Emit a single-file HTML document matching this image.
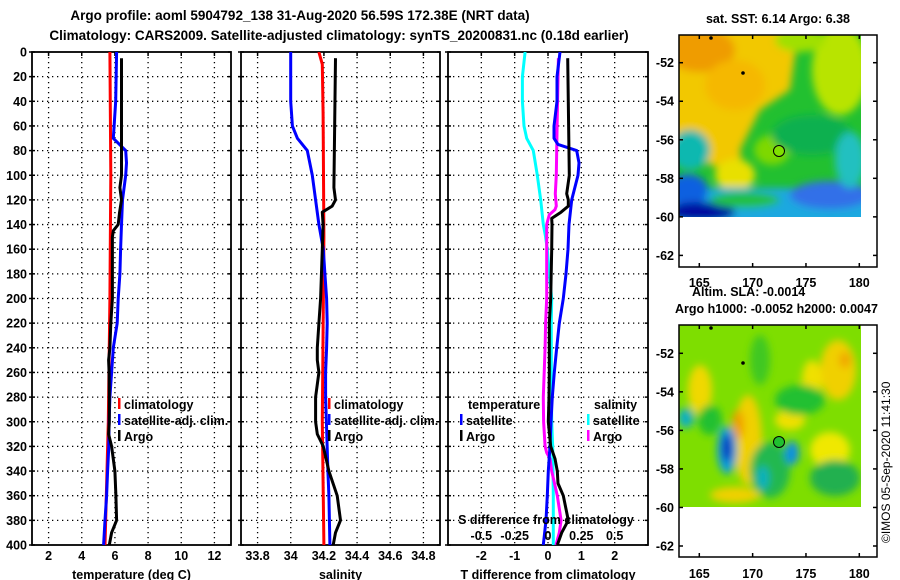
<!DOCTYPE html>
<html><head><meta charset="utf-8">
<style>
html,body{margin:0;padding:0;background:#fff;}
svg{display:block;font-family:"Liberation Sans",sans-serif;}
.t{font-weight:bold;font-size:12.5px;fill:#000;}
.h{font-weight:bold;font-size:13.5px;fill:#000;}
</style></head>
<body>
<svg id="fig" width="900" height="580" viewBox="0 0 900 580" xmlns="http://www.w3.org/2000/svg">
<defs>
<filter id="blur" x="-20%" y="-20%" width="140%" height="140%"><feGaussianBlur stdDeviation="4"/></filter>
<clipPath id="c1"><rect x="679" y="35" width="182" height="182"/></clipPath>
<clipPath id="c2"><rect x="679" y="325" width="182" height="182"/></clipPath>
<clipPath id="p1"><rect x="32" y="52" width="199" height="493"/></clipPath>
<clipPath id="p2"><rect x="241" y="52" width="199" height="493"/></clipPath>
<clipPath id="p3"><rect x="448" y="52" width="200" height="493"/></clipPath>
</defs>
<text class="h" x="300" y="20" text-anchor="middle">Argo profile: aoml 5904792_138 31-Aug-2020 56.59S 172.38E (NRT data)</text>
<text class="h" x="339" y="40" text-anchor="middle">Climatology: CARS2009. Satellite-adjusted climatology: synTS_20200831.nc (0.18d earlier)</text>

<!-- map 1 -->
<g>
<text class="t" x="778" y="23" text-anchor="middle">sat. SST: 6.14 Argo: 6.38</text>
<g clip-path="url(#c1)">
<rect x="679" y="35" width="182" height="182" fill="#22c030"/>
<g filter="url(#blur)">
<polygon points="660,20 800,20 790,90 760,110 740,150 745,180 700,160 660,150" fill="#f2c800"/>
<ellipse cx="700" cy="50" rx="35" ry="22" fill="#ef9c00"/>
<ellipse cx="735" cy="85" rx="30" ry="25" fill="#f5b800"/>
<ellipse cx="840" cy="70" rx="28" ry="45" fill="#b8e400"/>
<ellipse cx="800" cy="40" rx="25" ry="12" fill="#a0e000"/>
<ellipse cx="735" cy="175" rx="20" ry="16" fill="#e8e000"/>
<ellipse cx="772" cy="150" rx="18" ry="15" fill="#7ed800"/>
<ellipse cx="812" cy="135" rx="40" ry="20" fill="#10b050"/>
<rect x="660" y="188" width="220" height="40" fill="#1aa8e0"/>
<ellipse cx="830" cy="195" rx="40" ry="14" fill="#3070e8"/>
<ellipse cx="850" cy="160" rx="15" ry="28" fill="#20c0c0"/>
<ellipse cx="690" cy="150" rx="20" ry="20" fill="#10b8b0"/>
<ellipse cx="688" cy="190" rx="20" ry="16" fill="#1060e0"/>
<ellipse cx="700" cy="212" rx="35" ry="10" fill="#0010a0"/>
<ellipse cx="745" cy="200" rx="35" ry="8" fill="#20c040"/>
</g>
</g>
<rect x="679" y="35" width="198" height="232" fill="none" stroke="#000" stroke-width="1.5"/>
<circle cx="779" cy="151" r="5.5" fill="#80e000" stroke="#000" stroke-width="1"/>
<circle cx="711" cy="38" r="1.8" fill="#000"/><circle cx="743" cy="73" r="1.8" fill="#000"/>
</g>
<g>
<text class="t" x="692" y="296">Altim. SLA: -0.0014</text>
<text class="t" x="675" y="313">Argo h1000: -0.0052 h2000: 0.0047</text>
<g clip-path="url(#c2)">
<rect x="679" y="325" width="182" height="182" fill="#7ede00"/>
<g filter="url(#blur)">
<ellipse cx="700" cy="390" rx="12" ry="25" fill="#f0d800"/>
<ellipse cx="748" cy="440" rx="14" ry="45" fill="#f0d000"/>
<ellipse cx="738" cy="425" rx="6" ry="15" fill="#f0a000"/>
<ellipse cx="838" cy="370" rx="18" ry="30" fill="#f0d000"/>
<ellipse cx="845" cy="360" rx="6" ry="8" fill="#f0a800"/>
<ellipse cx="812" cy="380" rx="10" ry="20" fill="#f0e000"/>
<ellipse cx="830" cy="450" rx="20" ry="18" fill="#f0e800"/>
<ellipse cx="790" cy="420" rx="15" ry="10" fill="#f0e000"/>
<ellipse cx="800" cy="400" rx="25" ry="15" fill="#20c030"/>
<ellipse cx="710" cy="420" rx="12" ry="15" fill="#20c030"/>
<ellipse cx="770" cy="470" rx="20" ry="28" fill="#20b850"/>
<ellipse cx="835" cy="478" rx="25" ry="18" fill="#20b050"/>
<ellipse cx="760" cy="360" rx="10" ry="25" fill="#40c820"/>
<ellipse cx="686" cy="418" rx="8" ry="10" fill="#10b0c0"/>
<ellipse cx="727" cy="450" rx="10" ry="24" fill="#10a0d8"/>
<ellipse cx="727" cy="448" rx="5" ry="14" fill="#1030c0"/>
<ellipse cx="792" cy="453" rx="7" ry="12" fill="#1090e0"/>
<ellipse cx="763" cy="478" rx="6" ry="12" fill="#10b0c0"/>
<ellipse cx="735" cy="495" rx="25" ry="8" fill="#f0d000"/>
</g>
</g>
<rect x="679" y="325" width="198" height="232" fill="none" stroke="#000" stroke-width="1.5"/>
<circle cx="779" cy="442" r="5.5" fill="#20c030" stroke="#000" stroke-width="1"/>
<circle cx="711" cy="328" r="1.8" fill="#000"/><circle cx="743" cy="363" r="1.8" fill="#000"/>
<text x="890" y="543" font-size="12" transform="rotate(-90 890 543)">©IMOS 05-Sep-2020 11:41:30</text>
</g>
<g id="mapaxes"></g>
<g id="panels"></g>
</svg>
<script>
// ---- data ----
var depthTicks=[0,20,40,60,80,100,120,140,160,180,200,220,240,260,280,300,320,340,360,380,400];
var tempTicks=[2,4,6,8,10,12];
var salTicks=[33.8,34,34.2,34.4,34.6,34.8];
var salTickLabels=["33.8","34","34.2","34.4","34.6","34.8"];
var diffTicks=[-2,-1,0,1,2];
var sdiffTicks=[-0.5,-0.25,0,0.25,0.5];
var sdiffTickLabels=["-0.5","-0.25","0","0.25","0.5"];

var tClimDepth=[0,100,200,300,400];
var tClim=[5.7,5.75,5.7,5.6,5.4];
var tSatDepth=[0,40,60,70,80,90,100,120,140,160,180,200,220,240,260,280,300,320,340,360,380,400];
var tSat=[6.1,6.05,5.95,5.9,6.65,6.7,6.65,6.46,6.4,6.34,6.3,6.2,6.14,5.9,5.8,5.7,5.65,5.63,5.56,5.5,5.4,5.32];
var tArgoDepth=[5,100,110,120,130,140,145,150,160,200,220,240,250,260,280,300,310,320,340,360,380,390,400];
var tArgo=[6.4,6.4,6.3,6.4,6.28,6.2,5.9,5.85,5.85,5.85,5.75,5.7,5.62,5.65,5.66,5.66,5.62,5.8,6.0,6.06,6.1,5.8,5.66];

var sClimDepth=[0,10,50,150,300,400];
var sClim=[34.17,34.19,34.195,34.2,34.19,34.2];
var sSatDepth=[0,40,60,70,80,100,120,140,160,180,200,220,240,260,280,300,340,360,400];
var sSat=[34.0,34.0,34.01,34.04,34.1,34.13,34.15,34.17,34.196,34.206,34.216,34.22,34.216,34.21,34.21,34.215,34.224,34.23,34.236];
var sArgoDepth=[5,110,120,125,130,140,160,200,220,240,250,260,280,300,310,320,340,360,380,390,400];
var sArgo=[34.27,34.26,34.27,34.25,34.19,34.195,34.19,34.18,34.17,34.16,34.16,34.17,34.15,34.15,34.16,34.196,34.23,34.28,34.3,34.27,34.256];

var dTSatDepth=[0,20,40,60,70,75,80,90,100,120,140,160,180,200,220,240,260,280,300,320,340,360,380,400];
var dTSat=[0.36,0.27,0.27,0.18,0.18,0.3,0.86,0.93,0.9,0.71,0.63,0.6,0.54,0.46,0.34,0.26,0.19,0.13,0.09,0.06,0.01,-0.02,-0.06,-0.14];
var dTArgoDepth=[5,100,115,120,125,130,135,140,160,200,220,260,280,300,320,330,340,350,360,380,390,400];
var dTArgo=[0.59,0.64,0.56,0.61,0.61,0.39,0.11,0.12,0.11,0.08,0.04,0.04,0.03,0.01,0.08,0.21,0.28,0.3,0.46,0.61,0.41,0.28];
var dSSatDepth=[0,20,40,60,70,80,100,120,140,150,160,180,200,220,260,300,320,360,400];
var dSSat=[-0.172,-0.192,-0.192,-0.18,-0.16,-0.11,-0.08,-0.055,-0.035,-0.018,-0.005,0.01,0.028,0.025,0.025,0.028,0.035,0.04,0.04];
var dSArgoDepth=[5,60,100,115,125,128,132,140,200,220,240,280,300,320,325,330,340,360,380,390,400];
var dSArgo=[0.078,0.068,0.062,0.055,0.062,0.052,0.01,-0.01,-0.01,-0.018,-0.022,-0.035,-0.033,-0.022,-0.01,0.015,0.028,0.07,0.098,0.085,0.06];

var mapLonTicks=[165,170,175,180];
var mapLatTicks=[-52,-54,-56,-58,-60,-62];

// ---- drawing ----
var NS="http://www.w3.org/2000/svg";
var root=document.getElementById('panels');
function el(tag,attrs,parent){var e=document.createElementNS(NS,tag);for(var k in attrs)e.setAttribute(k,attrs[k]);(parent||root).appendChild(e);return e;}
var Y0=52,Y1=545;
function yS(d){return Y0+(d/400)*(Y1-Y0);}
function mkX(x0,x1,v0,v1){return function(v){return x0+(v-v0)/(v1-v0)*(x1-x0);};}

var panels=[
 {name:'temperature-panel',x0:32,x1:231,v0:1,v1:13,ticks:tempTicks,labels:tempTicks.map(String),title:'temperature (deg C)',clip:'p1'},
 {name:'salinity-panel',x0:241,x1:440,v0:33.7,v1:34.9,ticks:salTicks,labels:salTickLabels,title:'salinity',clip:'p2'},
 {name:'difference-panel',x0:448,x1:648,v0:-3,v1:3,ticks:diffTicks,labels:diffTicks.map(String),title:'T difference from climatology',clip:'p3'}
];
panels.forEach(function(p,i){
  var g=el('g',{});
  
  
  p.g=g;p.x=mkX(p.x0,p.x1,p.v0,p.v1);
  var grid=el('g',{stroke:'#000','stroke-width':'1.3','stroke-dasharray':'1.3 3.7'},g);
  
  
  depthTicks.forEach(function(d){if(d>0&&d<400)el('line',{x1:p.x0,x2:p.x1,y1:yS(d),y2:yS(d)},grid);});
  p.ticks.forEach(function(v){el('line',{x1:p.x(v),x2:p.x(v),y1:Y0,y2:Y1},grid);});
  el('rect',{x:p.x0,y:Y0,width:p.x1-p.x0,height:Y1-Y0,fill:'none',stroke:'#000','stroke-width':'1.8'},g);
  depthTicks.forEach(function(d){
    el('line',{x1:p.x0-3,x2:p.x0+3,y1:yS(d),y2:yS(d),stroke:'#000','stroke-width':'1.5'},g);
    el('line',{x1:p.x1-3,x2:p.x1,y1:yS(d),y2:yS(d),stroke:'#000','stroke-width':'1.5'},g);
  });
  p.ticks.forEach(function(v,k){
    el('line',{x1:p.x(v),x2:p.x(v),y1:Y0,y2:Y0+4,stroke:'#000','stroke-width':'1.5'},g);
    var t=el('text',{class:'t',x:p.x(v),y:560,'text-anchor':'middle'},g);t.textContent=p.labels[k];
    
    
  });
  var xt=el('text',{class:'t',x:(p.x0+p.x1)/2,y:579,'text-anchor':'middle'},g);xt.textContent=p.title;
  
  
});
// y labels
depthTicks.forEach(function(d){
  var t=el('text',{class:'t',x:27,y:yS(d)+4.5,'text-anchor':'end'});t.textContent=d;
  
  
});
function series(p,depths,vals,color,name,xf){
  var f=xf||p.x;
  var pts=depths.map(function(d,i){return f(vals[i]).toFixed(1)+','+yS(d).toFixed(1);}).join(' ');
  var l=el('polyline',{points:pts,fill:'none',stroke:color,'stroke-width':'3','stroke-linejoin':'round','clip-path':'url(#'+p.clip+')'},p.g);
  
  
}
var P1=panels[0],P2=panels[1],P3=panels[2];
series(P1,tClimDepth,tClim,'#ff0000','temp-climatology-line');
series(P1,tSatDepth,tSat,'#0000ff','temp-satellite-line');
series(P1,tArgoDepth,tArgo,'#000000','temp-argo-line');
series(P2,sClimDepth,sClim,'#ff0000','sal-climatology-line');
series(P2,sSatDepth,sSat,'#0000ff','sal-satellite-line');
series(P2,sArgoDepth,sArgo,'#000000','sal-argo-line');
var sx=mkX(448,648,-0.75,0.75);
series(P3,dSSatDepth,dSSat,'#00ffff','sdiff-satellite-line',sx);
series(P3,dSArgoDepth,dSArgo,'#ff00ff','sdiff-argo-line',sx);
series(P3,dTSatDepth,dTSat,'#0000ff','tdiff-satellite-line');
series(P3,dTArgoDepth,dTArgo,'#000000','tdiff-argo-line');
// secondary S axis labels
var sl=el('text',{class:'t',x:546,y:524,'text-anchor':'middle'},P3.g);sl.textContent='S difference from climatology';


sdiffTicks.forEach(function(v,k){
  var t=el('text',{class:'t',x:sx(v),y:540,'text-anchor':'middle'},P3.g);t.textContent=sdiffTickLabels[k];
  
  
});
// legends
function legend(g,x,y,color,label,name){
  var lg=el('g',{},g);
  
  
  el('rect',{x:x,y:y-11,width:2.5,height:11,fill:color},lg);
  var t=el('text',{class:'t',x:x+6,y:y},lg);t.textContent=label;
}
legend(P1.g,118,409,'#ff0000','climatology','legend-climatology');
legend(P1.g,118,425,'#0000ff','satellite-adj. clim.','legend-satellite-adj');
legend(P1.g,118,441,'#000000','Argo','legend-argo');
legend(P2.g,328,409,'#ff0000','climatology','legend-climatology');
legend(P2.g,328,425,'#0000ff','satellite-adj. clim.','legend-satellite-adj');
legend(P2.g,328,441,'#000000','Argo','legend-argo');
var tt=el('text',{class:'t',x:468,y:409},P3.g);tt.textContent='temperature';


var st=el('text',{class:'t',x:594,y:409},P3.g);st.textContent='salinity';


legend(P3.g,460,425,'#0000ff','satellite','legend-t-satellite');
legend(P3.g,460,441,'#000000','Argo','legend-t-argo');
legend(P3.g,587,425,'#00ffff','satellite','legend-s-satellite');
legend(P3.g,587,441,'#ff00ff','Argo','legend-s-argo');

// map axes
var ma=document.getElementById('mapaxes');
[{top:35,bot:267,lat52:62.7,lonY:287},{top:325,bot:557,lat52:353.3,lonY:578}].forEach(function(m){
  var lonX=mkX(699.3,859.3,165,180);
  var latY=function(v){return m.lat52+(-52-v)*19.27;};
  mapLonTicks.forEach(function(v){
    el('line',{x1:lonX(v),x2:lonX(v),y1:m.top,y2:m.top+4,stroke:'#000','stroke-width':'1.5'},ma);
    el('line',{x1:lonX(v),x2:lonX(v),y1:m.bot,y2:m.bot-4,stroke:'#000','stroke-width':'1.5'},ma);
    var t=el('text',{class:'t',x:lonX(v),y:m.lonY,'text-anchor':'middle'},ma);t.textContent=v;
    
    
  });
  mapLatTicks.forEach(function(v){
    el('line',{x1:679,x2:683,y1:latY(v),y2:latY(v),stroke:'#000','stroke-width':'1.5'},ma);
    el('line',{x1:873,x2:877,y1:latY(v),y2:latY(v),stroke:'#000','stroke-width':'1.5'},ma);
    var t=el('text',{class:'t',x:674,y:latY(v)+4.5,'text-anchor':'end'},ma);t.textContent=v;
    
    
  });
});
</script>
</body></html>
